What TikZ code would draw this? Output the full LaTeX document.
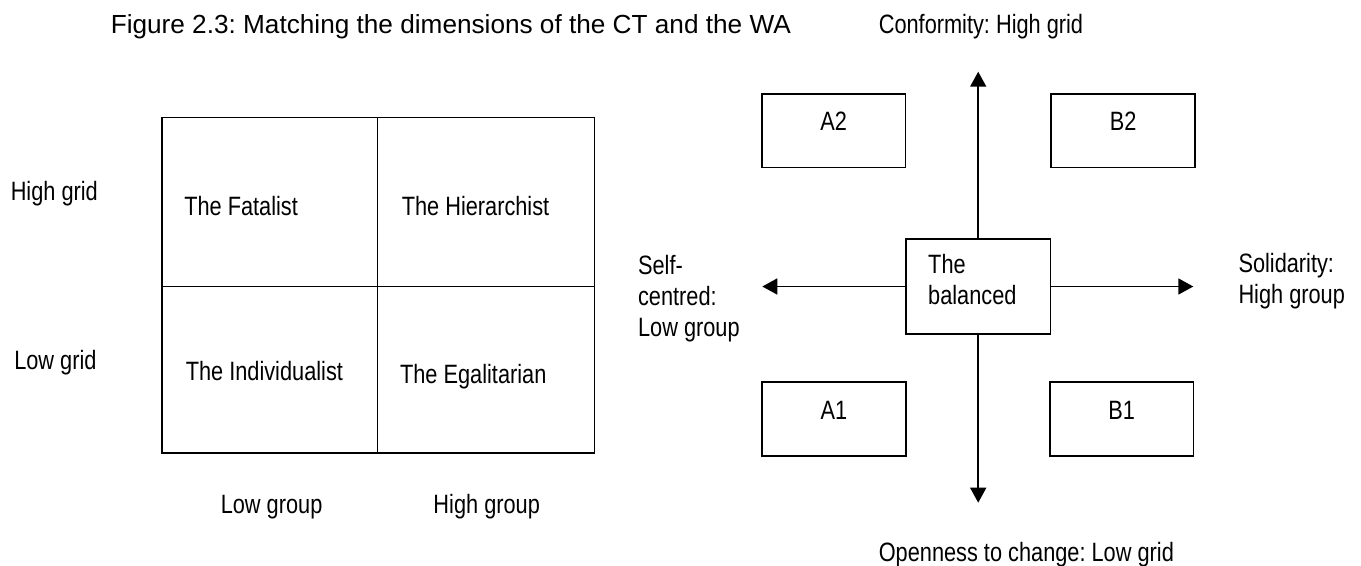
\documentclass[tikz,border=0pt]{standalone}
\usepackage{fontspec}
\setmainfont{Liberation Sans}[FakeStretch=0.82]
\newfontfamily\titlefont{Liberation Sans}
\usetikzlibrary{arrows.meta}
\frenchspacing

\tikzset{
  txt/.style={anchor=base west, inner sep=0pt, align=left, font=\fontsize{15.1}{17.6}\selectfont},
  quad/.style={draw, minimum width=2.88cm, minimum height=1.47cm, inner sep=0pt,
    text height=0.38cm, text depth=0.38cm, font=\fontsize{15.1}{17.6}\selectfont},
  axis/.style={-{Triangle[length=0.3cm, width=0.32cm]}}
}

\begin{document}
\begin{tikzpicture}[x=0.02cm, y=-0.02cm, line width=0.9pt]
  \useasboundingbox (0,0) rectangle (1361,565);

  % Caption
  \node[txt, font=\titlefont\fontsize{14.9}{17}\selectfont] (title) at (110,33.4)
    {Figure 2.3: Matching the dimensions of the CT and the WA};

  % Cultural theory grid
  \draw (162,117.3) rectangle (594.5,453);
  \draw (377.7,117.3) -- (377.7,453);
  \draw (162,286.3) -- (594.5,286.3);

  \node[txt] (highgrid) at (10,200) {High grid};
  \node[txt] (lowgrid) at (13.5,369) {Low grid};
  \node[txt] (fatalist) at (183.5,215) {The Fatalist};
  \node[txt] (hierarchist) at (401,215) {The Hierarchist};
  \node[txt] (individualist) at (185,380) {The Individualist};
  \node[txt] (egalitarian) at (399.3,383.3) {The Egalitarian};
  \node[txt] (lowgroup) at (220,513) {Low group};
  \node[txt] (highgroup) at (432.7,513) {High group};

  % Work attitude quadrants
  \node[quad] (a2) at (833.7,130.9) {A2};
  \node[quad] (b2) at (1123.1,130.9) {B2};
  \node[quad] (a1) at (834,419) {A1};
  \node[quad] (b1) at (1121.7,419) {B1};
  \node[quad, minimum width=2.9cm, minimum height=1.9cm, text width=2cm, align=left,
    text depth=0.9cm] (bal) at (978.2,286.5) {The\\balanced};

  \coordinate (upend) at (978.2,71.7);
  \coordinate (downend) at (978.2,502.7);
  \coordinate (leftend) at (762.3,286.5);
  \coordinate (rightend) at (1193.3,286.5);

  \draw[axis] (bal) -- (upend);
  \draw[axis] (bal) -- (downend);
  \draw[axis] (bal) -- (leftend);
  \draw[axis] (bal) -- (rightend);

  % base of a multi-line node is its last line
  \node[txt] (conformity) at (878,33.3) {Conformity: High grid};
  \node[txt] (selfcentred) at (637.3,336.5) {Self-\\centred:\\Low group};
  \node[txt] (solidarity) at (1237.7,303.5) {Solidarity:\\High group};
  \node[txt] (openness) at (878,561) {Openness to change: Low grid};
\end{tikzpicture}
\end{document}
